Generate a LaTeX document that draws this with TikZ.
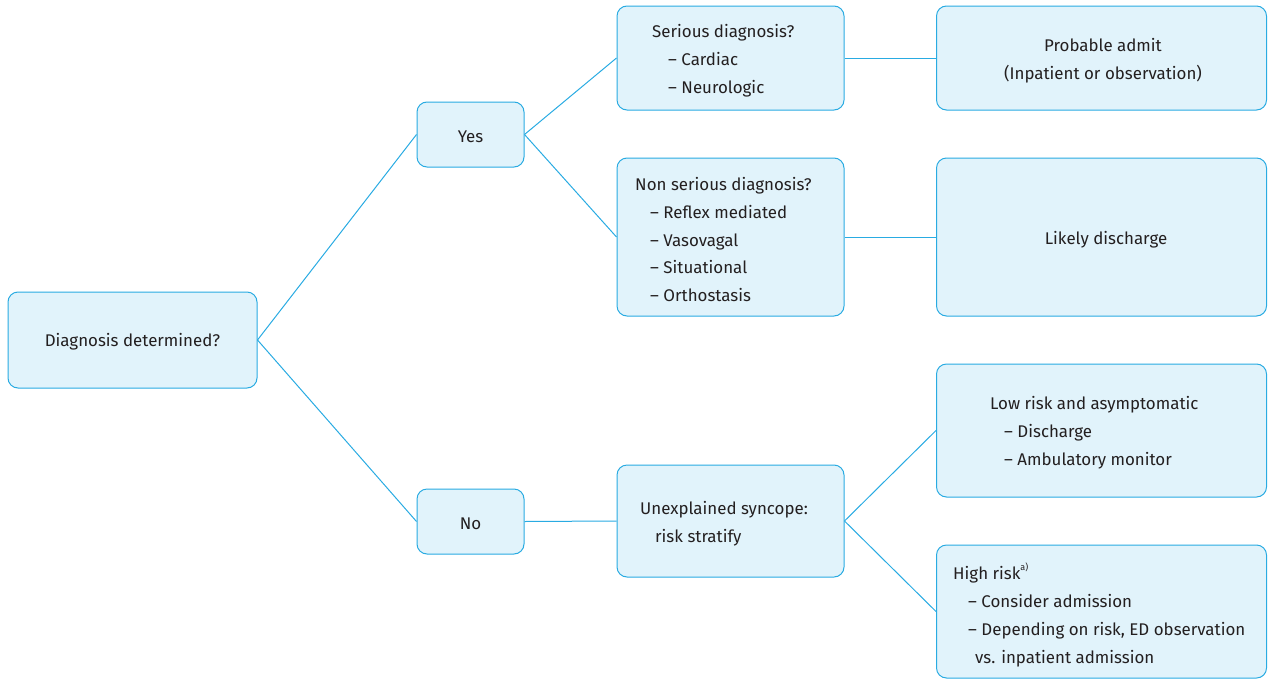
\documentclass[tikz,border=0pt]{standalone}
\usepackage{fontspec}
\setmainfont{Fira Sans}
\definecolor{bl}{HTML}{29ABE2}
\definecolor{bf}{HTML}{E1F3FB}
\definecolor{tx}{HTML}{231F20}
\begin{document}
\begin{tikzpicture}[x=1pt,y=-1pt,
  box/.style={draw=bl, fill=bf, rounded corners=10pt, line width=1pt, inner sep=0pt},
  conn/.style={draw=bl, line width=1pt},
  txt/.style={font=\fontsize{16.9}{27.7}\selectfont, align=left, inner sep=0pt, text=tx, yshift=-1.8pt},
  ctxt/.style={txt, align=center}]
\useasboundingbox (0,0) rectangle (1268,680);
% boxes
\node[box, minimum width=249, minimum height=96] (diag) at (132.5,340) {};
\node[box, minimum width=107, minimum height=65] (yes) at (470.5,134.5) {};
\node[box, minimum width=107, minimum height=65] (no) at (470.5,521.5) {};
\node[box, minimum width=227, minimum height=104] (ser) at (730.5,58) {};
\node[box, minimum width=227, minimum height=158] (nons) at (730.5,237) {};
\node[box, minimum width=227, minimum height=112] (unex) at (730.5,521) {};
\node[box, minimum width=330, minimum height=104] (prob) at (1101.5,58) {};
\node[box, minimum width=330, minimum height=158] (likely) at (1101.5,237) {};
\node[box, minimum width=330, minimum height=133] (low) at (1101.5,430.5) {};
\node[box, minimum width=330, minimum height=133] (high) at (1101.5,611.5) {};
% texts
\node[ctxt] (tdiag) at (132.5,340) {Diagnosis determined?};
\node[ctxt] (tyes) at (470.5,134.5) {Yes};
\node[ctxt] (tno) at (470.5,521.5) {No};
\node[txt, anchor=west] (tser) at (652,59) {Serious diagnosis?\\\hspace*{16pt}– Cardiac\\\hspace*{16pt}– Neurologic};
\node[txt, anchor=west] (tnons) at (635,238) {Non serious diagnosis?\\\hspace*{15pt}– Reflex mediated\\\hspace*{15pt}– Vasovagal\\\hspace*{15pt}– Situational\\\hspace*{15pt}– Orthostasis};
\node[txt, anchor=west] (tunex) at (640,522) {Unexplained syncope:\\\hspace*{15pt}risk stratify};
\node[ctxt] (tprob) at (1103,59) {Probable admit\\(Inpatient or observation)};
\node[ctxt] (tlikely) at (1106,238) {Likely discharge};
\node[txt, anchor=west] (tlow) at (990,431) {Low risk and asymptomatic\\\hspace*{14pt}– Discharge\\\hspace*{14pt}– Ambulatory monitor};
\node[txt, anchor=west] (thigh) at (953,613) {High risk\raisebox{0.55em}{\fontsize{9}{9}\selectfont a)}\\\hspace*{15pt}– Consider admission\\\hspace*{15pt}– Depending on risk, ED observation\\\hspace*{22pt}vs. inpatient admission};
% connectors
\draw[conn] (diag.east) -- (yes.west);
\draw[conn] (diag.east) -- (no.west);
\draw[conn] (yes.east) -- (ser.west);
\draw[conn] (yes.east) -- (nons.west);
\draw[conn] (ser.east) -- (prob.west);
\draw[conn] (nons.east) -- (likely.west);
\draw[conn] (no.east) -- (unex.west);
\draw[conn] (unex.east) -- (low.west);
\draw[conn] (unex.east) -- (high.west);
\end{tikzpicture}
\end{document}
